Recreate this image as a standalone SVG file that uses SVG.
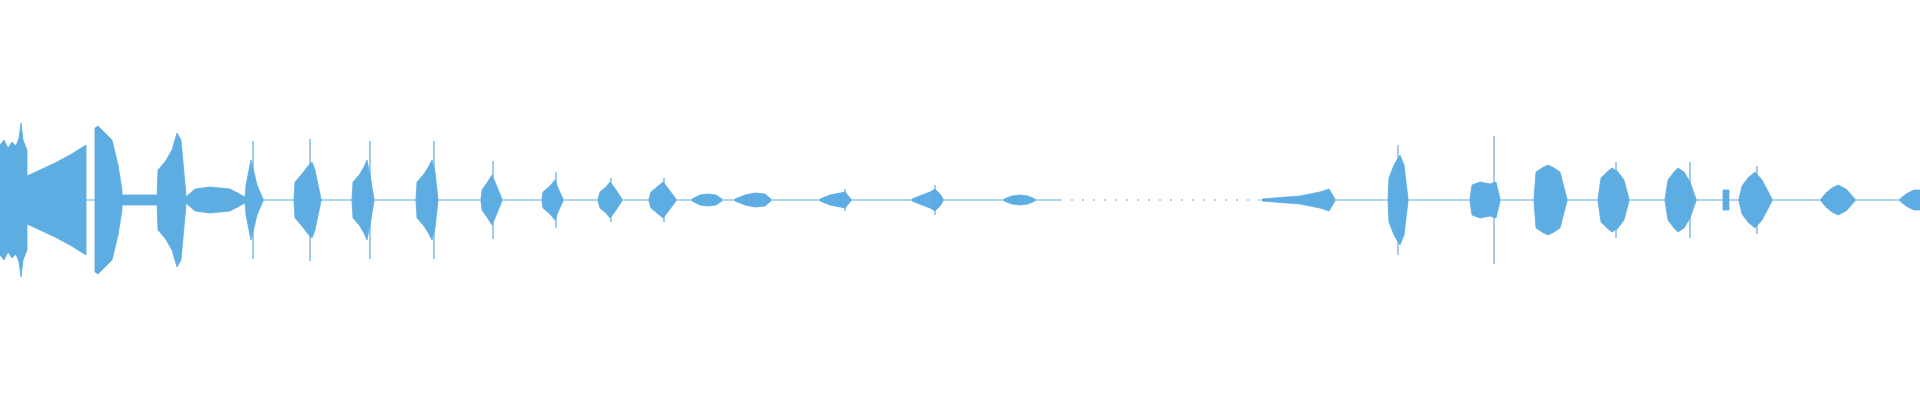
<svg xmlns="http://www.w3.org/2000/svg" width="1920" height="400" viewBox="0 0 1920 400">
<style>
.w{fill:#5DACE2;stroke:#5DACE2;stroke-width:0.8;stroke-linejoin:bevel}
.c{stroke:#5DACE2;stroke-width:1.2;fill:none}
.s{stroke:#5DACE2;stroke-width:1.2}
</style>
<rect width="1920" height="400" fill="#fff"/>
<g id="centerline">
<line class="c" x1="0" y1="200" x2="1060" y2="200"/>
<line class="c" x1="1060" y1="200" x2="1262" y2="200" stroke-dasharray="2 9"/>
<line class="c" x1="1262" y1="200" x2="1920" y2="200"/>
</g>
<g id="wave">
<polygon class="w" points="0,145 4,140 8,148 12,142 16,146 19,138 21,123 23,140 27,150 27,250 23,260 21,277 19,262 16,254 12,258 8,252 4,260 0,255"/>
<polygon class="w" points="27,176 40,170 55,163 70,155 86,145 86,255 70,245 55,237 40,230 27,224"/>
<polygon class="w" points="95,128 98,126 104,132 112,140 118,165 122,190 122,210 118,235 112,260 104,268 98,274 95,272"/>
<polygon class="w" points="122,195 157,195 157,205 122,205"/>
<polygon class="w" points="157,198 158,170 165,162 172,150 177,133 181,140 186,195 186,205 181,260 177,267 172,250 165,238 158,230 157,202"/>
<polygon class="w" points="186,197 195,189 210,187 230,189 245,197 245,203 230,211 210,213 195,211 186,203"/>
<polygon class="w" points="245,199 246,185 249,170 251,160 253,168 257,185 263,199 263,201 257,215 253,232 251,240 249,230 246,215 245,201"/>
<line class="s" x1="253" y1="141" x2="253" y2="259"/>
<polygon class="w" points="294,199 295,182 302,174 308,166 312,162 315,170 321,199 321,201 315,230 312,238 308,234 302,226 295,218 294,201"/>
<line class="s" x1="310" y1="139" x2="310" y2="261"/>
<polygon class="w" points="352,199 353,182 360,174 365,165 367,160 370,175 374,199 374,201 370,225 367,240 365,235 360,226 353,218 352,201"/>
<line class="s" x1="370" y1="141" x2="370" y2="259"/>
<polygon class="w" points="416,199 417,182 424,174 429,166 432,160 435,172 438,199 438,201 435,228 432,240 429,234 424,226 417,218 416,201"/>
<line class="s" x1="434" y1="141" x2="434" y2="259"/>
<polygon class="w" points="481,199 482,190 487,183 492,175 495,182 502,199 502,201 495,218 492,225 487,217 482,210 481,201"/>
<line class="s" x1="493" y1="161" x2="493" y2="239"/>
<polygon class="w" points="542,199 543,192 550,186 555,180 558,188 563,199 563,201 558,212 555,220 550,214 543,208 542,201"/>
<line class="s" x1="556" y1="172" x2="556" y2="228"/>
<polygon class="w" points="598,199 600,192 606,187 610,182 614,187 622,199 622,201 614,213 610,218 606,213 600,208 598,201"/>
<line class="s" x1="611" y1="178" x2="611" y2="222"/>
<polygon class="w" points="649,199 651,192 657,187 663,182 667,187 676,199 676,201 667,213 663,218 657,213 651,208 649,201"/>
<line class="s" x1="664" y1="178" x2="664" y2="222"/>
<polygon class="w" points="692,199 700,195 708,194 716,195 722,199 722,201 716,205 708,206 700,205 692,201"/>
<polygon class="w" points="735,199 745,195 755,193 765,194 771,199 771,201 765,206 755,207 745,205 735,201"/>
<polygon class="w" points="820,199 830,195 840,193 845,192 851,199 851,201 845,208 840,207 830,205 820,201"/>
<line class="s" x1="845" y1="189" x2="845" y2="211"/>
<polygon class="w" points="912,199 922,195 930,192 935,189 940,194 943,199 943,201 940,206 935,211 930,208 922,205 912,201"/>
<line class="s" x1="935" y1="185" x2="935" y2="215"/>
<polygon class="w" points="1004,199 1012,196 1020,195 1028,196 1035,199 1035,201 1028,204 1020,205 1012,204 1004,201"/>
<polygon class="w" points="1262,199 1300,196 1320,192 1329,189 1335,199 1335,201 1329,211 1320,208 1300,204 1262,201"/>
<polygon class="w" points="1388,199 1389,178 1394,165 1400,155 1404,165 1408,199 1408,201 1404,235 1400,245 1394,235 1389,222 1388,201"/>
<line class="s" x1="1398" y1="145" x2="1398" y2="255"/>
<polygon class="w" points="1470,199 1472,185 1480,182 1490,184 1496,182 1500,199 1500,201 1496,218 1490,216 1480,218 1472,215 1470,201"/>
<line class="s" x1="1494" y1="136" x2="1494" y2="264"/>
<polygon class="w" points="1534,199 1536,172 1542,168 1548,165 1554,168 1560,172 1567,199 1567,201 1560,228 1554,232 1548,235 1542,232 1536,228 1534,201"/>
<polygon class="w" points="1598,199 1601,178 1607,172 1612,168 1618,172 1624,180 1629,199 1629,201 1624,220 1618,228 1612,232 1607,228 1601,222 1598,201"/>
<line class="s" x1="1616" y1="162" x2="1616" y2="238"/>
<polygon class="w" points="1665,199 1668,180 1674,172 1678,168 1684,172 1690,182 1696,199 1696,201 1690,218 1684,228 1678,232 1674,228 1668,220 1665,201"/>
<line class="s" x1="1690" y1="162" x2="1690" y2="238"/>
<polygon class="w" points="1723,190 1729,190 1729,210 1723,210"/>
<polygon class="w" points="1739,199 1742,186 1748,178 1755,172 1762,180 1772,199 1772,201 1762,220 1755,228 1748,222 1742,214 1739,201"/>
<line class="s" x1="1757" y1="166" x2="1757" y2="234"/>
<polygon class="w" points="1821,199 1826,193 1832,188 1838,185 1846,189 1855,199 1855,201 1846,211 1838,215 1832,212 1826,207 1821,201"/>
<polygon class="w" points="1900,199 1906,194 1914,190 1920,190 1920,210 1914,210 1906,206 1900,201"/>
</g>
</svg>
